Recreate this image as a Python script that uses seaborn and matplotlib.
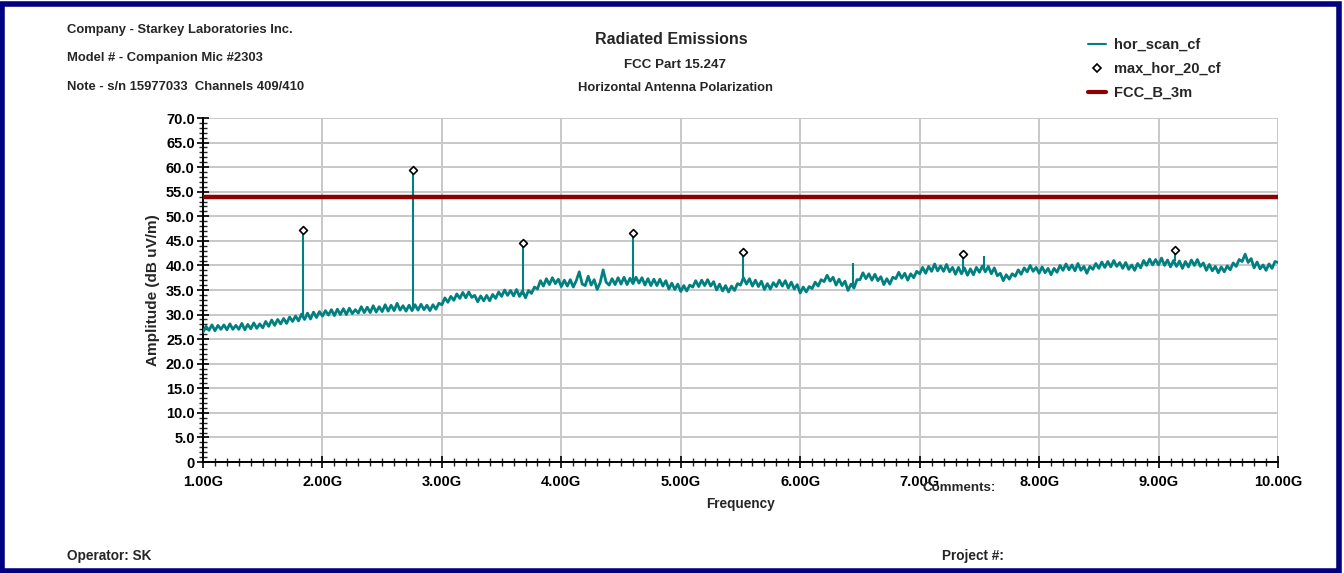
import numpy as np
import pandas as pd
import matplotlib
matplotlib.use("Agg")
import matplotlib.pyplot as plt
import seaborn as sns
from matplotlib.ticker import MultipleLocator
from matplotlib.patches import Rectangle
from matplotlib.lines import Line2D

# ---------------- data ----------------
# hor_scan_cf : swept trace 1.00 - 10.00 GHz (dBuV/m)
scan_level = [
    26.4, 27.6, 26.8, 27.9,  26.7, 27.8, 27.0, 27.9,  26.9, 28.1, 27.0, 27.8,
    27.0, 28.2, 26.9, 28.0,  27.1, 28.3, 27.2, 28.1,  27.3, 28.6, 27.6, 28.9,
    27.8, 29.0, 28.1, 29.2,  28.2, 29.5, 28.6, 29.7,  28.7, 30.1, 29.0, 30.3,
    29.1, 30.5, 29.4, 30.6,  29.7, 30.8, 29.9, 31.0,  29.8, 31.1, 30.0, 31.2,
    30.0, 31.3, 30.2, 31.0,  30.3, 31.6, 30.4, 31.5,  30.4, 31.8, 30.5, 31.6,
    30.6, 32.0, 30.7, 31.9,  30.8, 32.3, 30.9, 31.8,  30.7, 31.9, 30.8, 32.0,
    30.9, 32.1, 31.0, 31.9,  30.8, 32.0, 31.1, 32.3,  32.0, 33.4, 32.5, 33.7,
    32.9, 34.2, 33.3, 34.5,  33.4, 34.6, 33.5, 33.9,  32.6, 33.8, 32.8, 33.9,
    32.8, 34.1, 33.3, 34.6,  33.7, 35.0, 33.9, 34.9,  33.8, 35.1, 33.7, 34.8,
    33.4, 34.9, 34.3, 35.6,  35.2, 36.9, 35.8, 37.3,  36.1, 37.5, 36.3, 37.2,
    35.7, 37.0, 35.8, 37.1,  35.6, 36.9, 38.7, 36.2,  35.9, 37.8, 36.0, 37.1,
    35.1, 36.5, 39.1, 36.6,  36.0, 37.3, 36.1, 37.5,  36.2, 37.6, 36.1, 37.4,
    36.3, 37.6, 36.4, 37.5,  36.0, 37.3, 35.9, 37.2,  35.9, 37.2, 35.8, 36.9,
    35.2, 36.4, 35.1, 36.2,  34.7, 35.9, 34.8, 36.0,  35.6, 36.9, 35.7, 37.0,
    35.9, 37.1, 35.8, 36.7,  35.0, 36.2, 34.8, 35.9,  34.6, 35.8, 34.9, 36.3,
    36.0, 37.5, 36.2, 37.3,  35.8, 37.0, 35.7, 36.8,  35.1, 36.3, 35.2, 36.5,
    35.7, 37.0, 35.8, 36.9,  35.4, 36.6, 35.2, 36.1,  34.4, 35.6, 34.6, 35.7,
    35.3, 36.6, 35.8, 37.1,  36.7, 38.0, 36.8, 37.6,  36.0, 37.2, 35.9, 36.8,
    34.9, 36.2, 35.4, 37.1,  37.1, 38.5, 37.3, 38.3,  37.0, 38.2, 36.9, 37.7,
    36.1, 37.3, 36.2, 37.6,  37.3, 38.6, 37.4, 38.4,  37.0, 38.3, 37.5, 38.8,
    38.3, 39.6, 38.4, 39.8,  38.8, 40.3, 38.9, 39.9,  38.8, 40.2, 38.7, 39.6,
    38.2, 39.6, 38.3, 39.5,  38.0, 39.3, 38.1, 39.6,  38.6, 39.9, 38.7, 39.8,
    38.3, 39.5, 37.9, 38.4,  36.9, 38.1, 37.2, 38.3,  37.8, 39.1, 38.2, 39.5,
    38.7, 40.0, 38.8, 39.6,  38.4, 39.7, 38.5, 39.4,  38.1, 39.4, 38.6, 40.0,
    39.0, 40.3, 39.1, 40.1,  38.9, 40.4, 39.0, 39.8,  38.4, 39.8, 39.2, 40.4,
    39.4, 40.7, 39.6, 40.8,  39.7, 41.0, 39.8, 40.6,  39.4, 40.6, 39.2, 40.1,
    39.0, 40.4, 39.5, 41.0,  40.0, 41.3, 40.1, 41.2,  40.1, 41.5, 40.0, 41.1,
    39.7, 41.0, 39.8, 40.9,  39.4, 40.8, 39.7, 41.1,  40.0, 41.2, 39.8, 40.5,
    39.0, 40.2, 38.9, 39.8,  38.5, 39.7, 38.7, 39.9,  39.1, 40.5, 39.8, 41.2,
    40.8, 42.3, 40.6, 41.4,  39.5, 40.7, 39.3, 40.1,  39.0, 40.3, 39.4, 40.8,
    40.6,
]
scan_start_ghz = 1.0
scan_stop_ghz = 10.0

# narrow emission spikes in the scan (GHz, floor dBuV/m, top dBuV/m)
spike_freq = [1.84, 2.76, 3.68, 4.60, 5.52, 6.44, 7.365, 7.54, 9.14]
spike_floor = [30.0, 31.2, 34.0, 37.0, 36.8, 36.0, 39.0, 39.5, 40.8]
spike_top = [47.3, 59.4, 44.6, 46.5, 42.7, 40.5, 42.3, 42.0, 43.2]

# max_hor_20_cf : peak markers
peak_freq = [1.84, 2.76, 3.68, 4.60, 5.52, 7.365, 9.14]
peak_level = [47.3, 59.4, 44.6, 46.5, 42.7, 42.3, 43.2]

# FCC_B_3m limit line
limit_freq = [1.0, 10.0]
limit_level = [54.0, 54.0]

x_ticks = [1, 2, 3, 4, 5, 6, 7, 8, 9, 10]
x_tick_labels = ["1.00G", "2.00G", "3.00G", "4.00G", "5.00G",
                 "6.00G", "7.00G", "8.00G", "9.00G", "10.00G"]
y_ticks = [0, 5, 10, 15, 20, 25, 30, 35, 40, 45, 50, 55, 60, 65, 70]
y_tick_labels = ["0", "5.0", "10.0", "15.0", "20.0", "25.0", "30.0", "35.0",
                 "40.0", "45.0", "50.0", "55.0", "60.0", "65.0", "70.0"]

header_lines = ["Company - Starkey Laboratories Inc.",
                "Model # - Companion Mic #2303",
                "Note - s/n 15977033  Channels 409/410"]
title_lines = ["Radiated Emissions", "FCC Part 15.247",
               "Horizontal Antenna Polarization"]
legend_labels = ["hor_scan_cf", "max_hor_20_cf", "FCC_B_3m"]

# ---------------- styling ----------------
sns.set_theme(style="white")
plt.rcParams["font.family"] = ["Liberation Sans Narrow", "Liberation Sans", "DejaVu Sans"]
plt.rcParams["font.weight"] = "bold"

TEAL = "#008080"
LIMIT = "#8b0000"
NAVY = "#000080"

W, H = 1344, 573
fig = plt.figure(figsize=(W / 100, H / 100), dpi=100)
ax = fig.add_axes([203 / W, 1 - 462 / H, 1075 / W, 344 / H])

scan_df = pd.DataFrame({
    "freq": np.linspace(scan_start_ghz, scan_stop_ghz, len(scan_level)),
    "level": scan_level,
})
peak_df = pd.DataFrame({"freq": peak_freq, "level": peak_level})
limit_df = pd.DataFrame({"freq": limit_freq, "level": limit_level})

sns.lineplot(data=scan_df, x="freq", y="level", ax=ax, color=TEAL,
             linewidth=2.0, zorder=3, sort=False)
ax.vlines(spike_freq, spike_floor, spike_top, color=TEAL, linewidth=1.5, zorder=3)
sns.lineplot(data=limit_df, x="freq", y="level", ax=ax, color=LIMIT,
             linewidth=3.2, zorder=4)
sns.scatterplot(data=peak_df, x="freq", y="level", ax=ax, marker="D", s=16,
                facecolor="white", edgecolor="black", linewidth=1.2, zorder=5)

ax.set_xlim(1.0, 10.0)
ax.set_ylim(0, 70)
ax.set_xticks(x_ticks)
ax.set_xticklabels(x_tick_labels)
ax.set_yticks(y_ticks)
ax.set_yticklabels(y_tick_labels)
ax.xaxis.set_minor_locator(MultipleLocator(0.1))
ax.yaxis.set_minor_locator(MultipleLocator(1))
ax.tick_params(axis="both", which="major", direction="inout", length=8, width=1.2,
               labelsize=10.5, colors="black", bottom=True, left=True)
ax.tick_params(axis="x", which="major", pad=5)
ax.tick_params(axis="y", which="major", pad=2)
ax.tick_params(axis="both", which="minor", direction="inout", length=6, width=1.0,
               bottom=True, left=True)
for lab in ax.get_xticklabels() + ax.get_yticklabels():
    lab.set_fontweight("bold")

ax.grid(True, which="major", color="#c8c8c8", linewidth=1.4, zorder=0)
ax.set_axisbelow(True)
for s in ["top", "right"]:
    ax.spines[s].set_visible(False)
for s in ["left", "bottom"]:
    ax.spines[s].set_color("black")
    ax.spines[s].set_linewidth(1.4)

ax.set_xlabel("Frequency", fontsize=9.8, fontweight="bold", labelpad=6)
ax.set_ylabel("Amplitude (dB uV/m)", fontsize=11, fontweight="bold", labelpad=4)

# header text
for i, t in enumerate(header_lines):
    fig.text(67 / W, 1 - (30 + i * 28.5) / H, t, fontsize=9.4, fontweight="bold",
             ha="left", va="center")
fig.text(671 / W, 1 - 40 / H, title_lines[0], fontsize=11.5, fontweight="bold",
         ha="center", va="center")
fig.text(675 / W, 1 - 65 / H, title_lines[1], fontsize=9.6, fontweight="bold",
         ha="center", va="center")
fig.text(675 / W, 1 - 88 / H, title_lines[2], fontsize=9.4, fontweight="bold",
         ha="center", va="center")

# legend
handles = [
    Line2D([], [], color=TEAL, linewidth=1.5),
    Line2D([], [], color="black", marker="D", markersize=4, markerfacecolor="white",
           linestyle="none", markeredgewidth=1.2),
    Line2D([], [], color=LIMIT, linewidth=3),
]
fig.legend(handles, legend_labels, loc="upper left",
           bbox_to_anchor=(1075 / W, 1 - 25 / H), frameon=False,
           handlelength=1.2, handletextpad=0.6, labelspacing=0.68,
           prop={"weight": "bold", "size": 10.5})

# footer text
fig.text(923 / W, 1 - 488 / H, "Comments:", fontsize=9.6, fontweight="bold",
         ha="left", va="center")
fig.text(67 / W, 1 - 556 / H, "Operator: SK", fontsize=9.8, fontweight="bold",
         ha="left", va="center")
fig.text(942 / W, 1 - 556 / H, "Project #:", fontsize=9.8, fontweight="bold",
         ha="left", va="center")

# navy frame
fig.patches.append(Rectangle((2 / W, 2 / H), (W - 7) / W, (H - 6) / H,
                             transform=fig.transFigure, fill=False,
                             edgecolor=NAVY, linewidth=4))

fig.savefig("out.png", dpi=100)
